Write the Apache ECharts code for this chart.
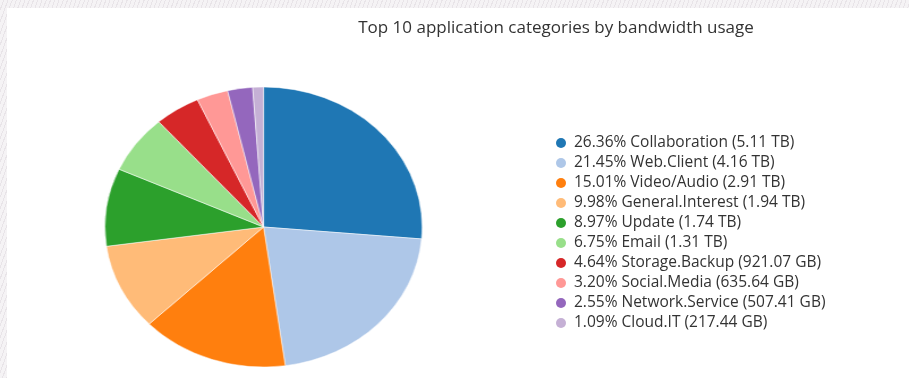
<!DOCTYPE html>
<html>
<head>
<meta charset="utf-8">
<title>Top 10 application categories by bandwidth usage</title>
<script src="https://cdn.jsdelivr.net/npm/echarts@6/dist/echarts.min.js"></script>
<style>
  html, body {
    margin: 0;
    padding: 0;
  }
  body {
    width: 909px;
    height: 378px;
    overflow: hidden;
    position: relative;
    background: repeating-linear-gradient(110deg, #f5f3f5 0px, #f5f3f5 3px, #e8e4e8 3px, #e8e4e8 4px);
  }
  #card {
    position: absolute;
    left: 7px;
    top: 8px;
    right: -10px;
    bottom: -10px;
    background: #fff;
  }
  /* pie is drawn a bit wider than tall, like the original */
  #pie {
    position: absolute;
    left: 0;
    top: 0;
    width: 802px;
    height: 378px;
    transform: scaleX(1.133);
    transform-origin: 0 0;
  }
  #main {
    position: absolute;
    left: 0;
    top: 0;
    width: 909px;
    height: 378px;
  }
</style>
</head>
<body>
<div id="card"></div>
<div id="pie"></div>
<div id="main"></div>
<script>
// data
var categories = [
  "Collaboration", "Web.Client", "Video/Audio", "General.Interest", "Update",
  "Email", "Storage.Backup", "Social.Media", "Network.Service", "Cloud.IT"
];
var shares = [26.36, 21.45, 15.01, 9.98, 8.97, 6.75, 4.64, 3.20, 2.55, 1.09];
var usage = [
  "5.11 TB", "4.16 TB", "2.91 TB", "1.94 TB", "1.74 TB",
  "1.31 TB", "921.07 GB", "635.64 GB", "507.41 GB", "217.44 GB"
];
var colors = [
  "#1f77b4", "#aec7e8", "#ff7f0e", "#ffbb78", "#2ca02c",
  "#98df8a", "#d62728", "#ff9896", "#9467bd", "#c5b0d5"
];

var pieData = categories.map(function (name, i) {
  return { name: name, value: shares[i] };
});

var pieChart = echarts.init(document.getElementById("pie"));
pieChart.setOption({
  animation: false,
  color: colors,
  series: [
    {
      type: "pie",
      center: [232.6, 227],
      radius: [0, 140],
      startAngle: 90,
      clockwise: true,
      label: { show: false },
      labelLine: { show: false },
      itemStyle: { borderColor: "#fff", borderWidth: 0.5 },
      emphasis: { disabled: true },
      data: pieData,
    },
  ],
});

var mainChart = echarts.init(document.getElementById("main"));
mainChart.setOption({
  animation: false,
  color: colors,
  textStyle: { fontFamily: "Open Sans" },
  title: {
    text: "Top 10 application categories by bandwidth usage",
    left: 551,
    textAlign: "center",
    top: 15,
    textStyle: {
      fontFamily: "Open Sans",
      fontSize: 17,
      fontWeight: "normal",
      color: "#333",
    },
  },
  legend: {
    orient: "vertical",
    left: 551,
    top: 128,
    icon: "circle",
    itemWidth: 14,
    itemHeight: 10,
    itemGap: 0,
    selectedMode: false,
    textStyle: {
      fontFamily: "Open Sans",
      fontSize: 15.5,
      lineHeight: 20,
      color: "#333",
      padding: [0, 0, 0, 1],
    },
    formatter: function (name) {
      var i = categories.indexOf(name);
      return shares[i].toFixed(2) + "% " + name + " (" + usage[i] + ")";
    },
    data: categories,
  },
  // only feeds the legend; the visible pie is in #pie
  series: [
    {
      type: "pie",
      center: [232.6, 227],
      radius: [0, 0],
      silent: true,
      label: { show: false },
      labelLine: { show: false },
      data: pieData,
    },
  ],
});
</script>
</body>
</html>
